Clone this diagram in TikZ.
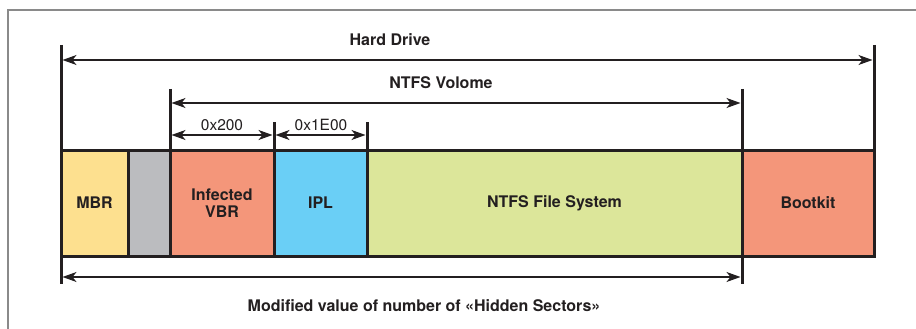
\documentclass[tikz,border=0pt]{standalone}
\usepackage{fontspec}
\setmainfont{TeX Gyre Heros}
\usetikzlibrary{arrows.meta}
\definecolor{ink}{HTML}{231F20}
\definecolor{framegray}{HTML}{8A8A8A}
\definecolor{mbrc}{HTML}{FDE08F}
\definecolor{gapc}{HTML}{BBBCBF}
\definecolor{vbrc}{HTML}{F4967A}
\definecolor{iplc}{HTML}{6ACFF6}
\definecolor{ntfsc}{HTML}{DCE69A}
\tikzset{
  blk/.style={draw=ink, line width=3pt, rectangle, outer sep=0pt, inner sep=0pt,
    minimum height=106pt, anchor=north west, align=center,
    font=\fontsize{16}{16.5}\selectfont\bfseries, text=ink},
  tick/.style={draw=ink, line width=3pt},
  dim/.style={draw=ink, line width=1.4pt,
    {Stealth[length=14pt,width=10pt,inset=4pt]}-{Stealth[length=14pt,width=10pt,inset=4pt]},
    shorten <=1.5pt, shorten >=1.5pt},
  lbl/.style={font=\fontsize{16}{16}\selectfont\bfseries, text=ink, inner sep=0pt},
  vlbl/.style={font=\fontsize{15.5}{15.5}\selectfont, text=ink, inner sep=0pt}
}
\begin{document}
\begin{tikzpicture}[x=1pt,y=-1pt]
\useasboundingbox (0,0) rectangle (916,329);
% frame
\draw[framegray, line width=1.5pt] (8,329) -- (8,10) -- (916,10);
% blocks
\node[blk, fill=mbrc, minimum width=67pt] (mbr) at (61,150) {MBR};
\node[blk, fill=gapc, minimum width=42pt] (gap) at (mbr.north east) {};
\node[blk, fill=vbrc, minimum width=104pt] (vbr) at (gap.north east) {Infected\\VBR};
\node[blk, fill=iplc, minimum width=93pt] (ipl) at (vbr.north east) {IPL};
\node[blk, fill=ntfsc, minimum width=375pt] (ntfs) at (ipl.north east) {NTFS File System};
\node[blk, fill=vbrc, minimum width=132pt] (boot) at (ntfs.north east) {Bootkit};
% tick tops / bottoms
\coordinate (hdLt) at (61,45);
\coordinate (hdRt) at (boot.north east |- 0,45);
\coordinate (nvLt) at (170,89);
\coordinate (nvRt) at (ntfs.north east |- 0,89);
\coordinate (s1t) at (vbr.north east |- 0,122);
\coordinate (s2t) at (ipl.north east |- 0,122);
\coordinate (bLb) at (61,284);
\coordinate (bRb) at (ntfs.south east |- 0,284);
\draw[tick] (hdLt) -- (mbr.north west);
\draw[tick] (hdRt) -- (boot.north east);
\draw[tick] (nvLt) -- (vbr.north west);
\draw[tick] (nvRt) -- (ntfs.north east);
\draw[tick] (s1t) -- (vbr.north east);
\draw[tick] (s2t) -- (ipl.north east);
\draw[tick] (mbr.south west) -- (bLb);
\draw[tick] (ntfs.south east) -- (bRb);
% dimension arrows
\coordinate (hdL) at (61,60);
\coordinate (hdR) at (boot.north east |- 0,60);
\coordinate (nvL) at (170,103);
\coordinate (nvR) at (ntfs.north east |- 0,103);
\coordinate (s1L) at (170,135);
\coordinate (s1R) at (vbr.north east |- 0,135);
\coordinate (s2R) at (ipl.north east |- 0,135);
\coordinate (bL) at (61,277);
\coordinate (bR) at (ntfs.south east |- 0,277);
\draw[dim] (hdL) -- (hdR);
\draw[dim] (nvL) -- (nvR);
\draw[dim] (s1L) -- (s1R);
\draw[dim] (s1R) -- (s2R);
\draw[dim] (bL) -- (bR);
% labels
\node[lbl] (hdlbl) at (390,40) {Hard Drive};
\node[lbl] (nvlbl) at (441,83) {NTFS Volome};
\node[vlbl] (s1lbl) at (222,125) {0x200};
\node[vlbl] (s2lbl) at (321,125) {0x1E00};
\node[lbl] (blbl) at (424,306) {Modified value of number of «Hidden Sectors»};
\end{tikzpicture}
\end{document}
